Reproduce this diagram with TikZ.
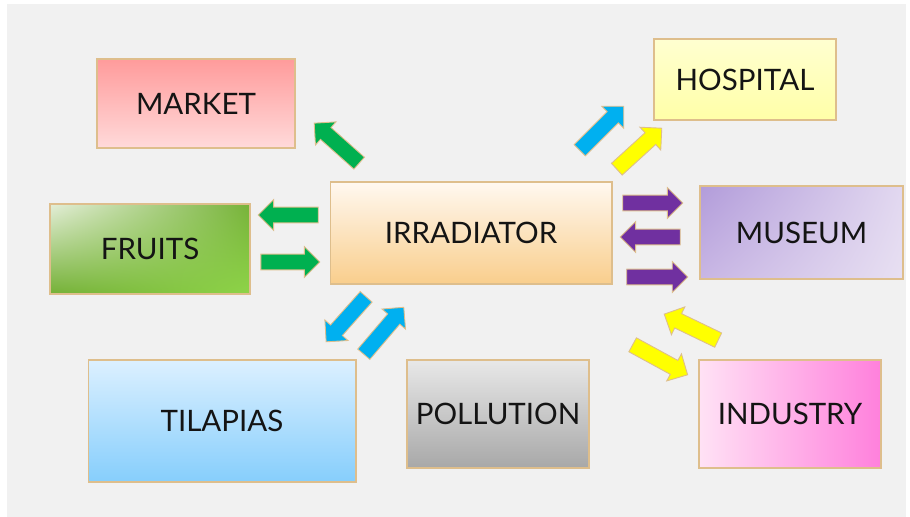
\documentclass[tikz,border=0pt]{standalone}
\usepackage{fontspec}
\newfontfamily\boxfont{Lato}
\usetikzlibrary{calc,shapes.arrows,shadings}

\definecolor{edgetan}{RGB}{222,190,140}
\definecolor{slide}{RGB}{241,241,241}
\definecolor{flowgreen}{RGB}{0,176,80}
\definecolor{flowblue}{RGB}{0,176,240}
\definecolor{flowyellow}{RGB}{255,255,0}
\definecolor{flowpurple}{RGB}{112,48,160}

\newcommand{\flowarrow}[4]{%
  \path let \p1=#3, \p2=#4, \n1={atan2(\y2-\y1,\x2-\x1)}, \n2={veclen(\x2-\x1,\y2-\y1)} in
    node[flow,fill=#2,minimum height=\n2,rotate=\n1] (#1) at ($#3!.43!#4$) {};}

\begin{document}
\begin{tikzpicture}[x=0.02cm,y=-0.02cm,
  box/.style={draw=edgetan,line width=0.6pt,inner sep=0pt,text=black!92,
    font=\boxfont\fontsize{16.8}{20}\selectfont},
  flow/.style={single arrow,draw=edgetan,line width=0.5pt,inner sep=0.15cm,
    single arrow head extend=0.15cm,single arrow tip angle=90}]
  \useasboundingbox (0,0) rectangle (910,517);
  \fill[slide] (7,4) rectangle (906,517);

  \node[box,minimum width=3.96cm,minimum height=1.78cm,
    top color={rgb,255:red,255;green,155;blue,155},bottom color={rgb,255:red,255;green,218;blue,218}]
    (market) at (196,103.5) {MARKET};
  \node[box,minimum width=3.64cm,minimum height=1.62cm,
    top color={rgb,255:red,255;green,255;blue,208},bottom color={rgb,255:red,255;green,255;blue,168}]
    (hospital) at (745,79.5) {HOSPITAL};
  \node[box,minimum width=5.64cm,minimum height=2.04cm,
    top color={rgb,255:red,255;green,248;blue,240},bottom color={rgb,255:red,249;green,206;blue,140}]
    (irradiator) at (471,233) {IRRADIATOR};
  \node[box,minimum width=4.0cm,minimum height=1.8cm,
    upper left={rgb,255:red,228;green,238;blue,216},upper right={rgb,255:red,118;green,178;blue,56},
    lower left={rgb,255:red,116;green,176;blue,54},lower right={rgb,255:red,142;green,212;blue,72}]
    (fruits) at (150,249) {FRUITS};
  \node[box,minimum width=4.06cm,minimum height=1.86cm,
    upper left={rgb,255:red,178;green,156;blue,218},upper right={rgb,255:red,226;green,216;blue,240},
    lower left={rgb,255:red,200;green,182;blue,228},lower right={rgb,255:red,232;green,224;blue,242}]
    (museum) at (801.5,232.5) {MUSEUM};
  \node[box,minimum width=5.36cm,minimum height=2.44cm,
    top color={rgb,255:red,220;green,240;blue,255},bottom color={rgb,255:red,134;green,206;blue,252}]
    (tilapias) at (222,421) {TILAPIAS};
  \node[box,minimum width=3.64cm,minimum height=2.16cm,
    top color={rgb,255:red,232;green,232;blue,232},bottom color={rgb,255:red,168;green,168;blue,168}]
    (pollution) at (498,414) {POLLUTION};
  \node[box,minimum width=3.64cm,minimum height=2.16cm,
    left color={rgb,255:red,255;green,226;blue,245},right color={rgb,255:red,255;green,128;blue,220}]
    (industry) at (790,414) {INDUSTRY};

  \flowarrow{gmarket}{flowgreen}{(359,163)}{(314,123)}
  \flowarrow{gfruits}{flowgreen}{(318,215)}{(258,215)}
  \flowarrow{girrad}{flowgreen}{(261,262)}{(320,262)}
  \flowarrow{bhosp}{flowblue}{(580,150)}{(624,106)}
  \flowarrow{bdown}{flowblue}{(366,297)}{(326,342)}
  \flowarrow{bup}{flowblue}{(364,354)}{(404,307)}
  \flowarrow{yhosp}{flowyellow}{(617,169)}{(662,128)}
  \flowarrow{yup}{flowyellow}{(718,340)}{(664,314)}
  \flowarrow{ydown}{flowyellow}{(633,345)}{(688,375)}
  \flowarrow{pmuseum}{flowpurple}{(623,203)}{(683,203)}
  \flowarrow{pirrad}{flowpurple}{(680,237)}{(620,237)}
  \flowarrow{pout}{flowpurple}{(627,277)}{(688,277)}
\end{tikzpicture}
\end{document}
